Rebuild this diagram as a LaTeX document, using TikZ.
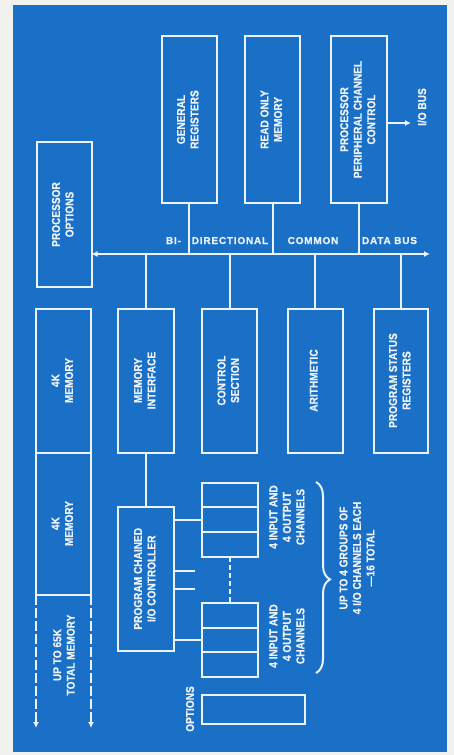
\documentclass[tikz,border=0pt]{standalone}
\usepackage{fontspec}
\usepackage{graphicx}
\usetikzlibrary{arrows.meta,calc,decorations.pathreplacing}
\setmainfont{Liberation Sans}
\newfontfamily\blueprint{Liberation Sans}[FakeStretch=0.88,UprightFont={* Bold},FakeBold=0.6,Ligatures=TeX]
\newfontfamily\busfont{Liberation Sans}[UprightFont={* Bold},FakeBold=0.6,LetterSpace=8]
\definecolor{paper}{HTML}{F1F1EE}
\definecolor{print}{HTML}{1A6FC6}
\definecolor{chalk}{HTML}{EDF3FA}
\newcommand{\vlines}[1]{\rotatebox{90}{\begin{tabular}{@{}c@{}}#1\end{tabular}}}

\begin{document}
\begin{tikzpicture}[x=1pt,y=-1pt,line width=2pt,
    every node/.style={text=chalk,font={\blueprint\fontsize{11.5}{13.5}\selectfont}},
    unit/.style={draw=chalk,line width=2pt,minimum width=55pt,
                 inner sep=0pt,outer sep=0pt},
    tall/.style={unit,minimum height=167pt},
    mid/.style={unit,minimum height=144pt},
    chan/.style={unit,minimum width=56pt,minimum height=74pt},
    vlabel/.style={rotate=90,align=center},
    buslabel/.style={anchor=base,font={\busfont\fontsize{10}{12}\selectfont}},
    wire/.style={draw=chalk,line width=2pt},
    tip/.style={-{Latex[length=6pt,width=6pt]}}]
  \useasboundingbox (0,0) rectangle (454,755);
  \fill[paper] (0,0) rectangle (454,755);
  \fill[print] (13,5) rectangle (447,752);

  % units above the bus
  \node[tall] (gr) at (189,119.5) {\vlines{GENERAL\\REGISTERS}};
  \node[tall] (rom) at (272.5,119.5) {\vlines{READ ONLY\\MEMORY}};
  \node[tall,minimum width=56pt] (ppcc) at (359,119.5)
    {\vlines{PROCESSOR\\PERIPHERAL CHANNEL\\CONTROL}};
  \node[unit,minimum height=145pt] (po) at (64,214.5) {\vlines{PROCESSOR\\OPTIONS}};

  \coordinate (iobus) at (411,0);
  \draw[wire,tip] ([yshift=-3.5pt]ppcc.east) -- ([yshift=-3.5pt]ppcc.east -| iobus);
  \node[vlabel] (iolbl) at (422,107) {I/O BUS};

  % the bus
  \coordinate (busR) at (430,254);
  \draw[wire,{Latex[length=6pt,width=6pt]}-{Latex[length=6pt,width=6pt]}]
    (po.east |- busR) -- (busR);
  \node[buslabel] (bl1) at (173.5,244) {BI-};
  \node[buslabel] (bl2) at (230,244) {DIRECTIONAL};
  \node[buslabel] (bl3) at (313,244) {COMMON};
  \node[buslabel] (bl4) at (389.5,244) {DATA BUS};

  % units below the bus
  \node[mid] (mem1) at (63.5,380.5) {\vlines{4K\\MEMORY}};
  \node[unit,minimum height=142pt,anchor=north] (mem2) at (mem1.south) {\vlines{4K\\MEMORY}};
  \node[mid,minimum width=56pt] (mi) at (146,380.5) {\vlines{MEMORY\\INTERFACE}};
  \node[mid] (cs) at (229.5,380.5) {\vlines{CONTROL\\SECTION}};
  \node[mid] (ar) at (315,380.5) {\vlines{ARITHMETIC}};
  \node[mid,minimum width=54pt] (psr) at (401,380.5) {\vlines{PROGRAM STATUS\\REGISTERS}};

  \foreach \n in {gr,rom,ppcc}
    \draw[wire] (\n.south) -- (\n.south |- busR);
  \foreach \n in {mi,cs,ar,psr}
    \draw[wire] (\n.north) -- (\n.north |- busR);

  % memory can grow
  \coordinate (memend) at (0,728);
  \draw[wire,tip,dash pattern=on 10pt off 3pt] (mem2.south west) -- (mem2.south west |- memend);
  \draw[wire,tip,dash pattern=on 10pt off 3pt] (mem2.south east) -- (mem2.south east |- memend);
  \node[vlabel] (memlbl) at (64,655) {UP TO 65K\\TOTAL MEMORY};

  % i/o controller and channel groups
  \node[mid,minimum width=56pt] (pc) at (146,578.75) {\vlines{PROGRAM CHAINED\\I/O CONTROLLER}};
  \draw[wire] (mi.south) -- (pc.north);
  \node[chan] (ch1) at (229.5,519.75) {};
  \node[chan] (ch2) at (229.5,640) {};
  \foreach \n in {ch1,ch2}
    \foreach \f in {1,2}
      \draw[wire] ($(\n.north west)!\f/3!(\n.south west)$) -- ($(\n.north east)!\f/3!(\n.south east)$);
  \draw[wire] (ch1.west) -- (ch1.west -| pc.east);
  \draw[wire] (ch2.west) -- (ch2.west -| pc.east);
  \coordinate (stubA) at (195,571);
  \coordinate (stubB) at (195,589);
  \draw[wire] (stubA -| pc.east) -- (stubA);
  \draw[wire] (stubB -| pc.east) -- (stubB);
  \draw[wire,dash pattern=on 5pt off 3pt] (ch1.south) -- (ch2.north);
  \node[vlabel] (ch1lbl) at (287,517) {4 INPUT AND\\4 OUTPUT\\CHANNELS};
  \node[vlabel] (ch2lbl) at (287,636) {4 INPUT AND\\4 OUTPUT\\CHANNELS};

  \coordinate (brTop) at (316,482);
  \coordinate (brBot) at (316,673);
  \draw[wire,decorate,decoration={brace,amplitude=14pt,aspect=0.51}] (brTop) -- (brBot);
  \node[vlabel] (grplbl) at (357,558) {UP TO 4 GROUPS OF\\4 I/O CHANNELS EACH\\---16 TOTAL};

  \node[unit,minimum width=103pt,minimum height=29pt] (opt) at (253.5,709.5) {};
  \node[vlabel] (optlbl) at (190,709) {OPTIONS};
\end{tikzpicture}
\end{document}
